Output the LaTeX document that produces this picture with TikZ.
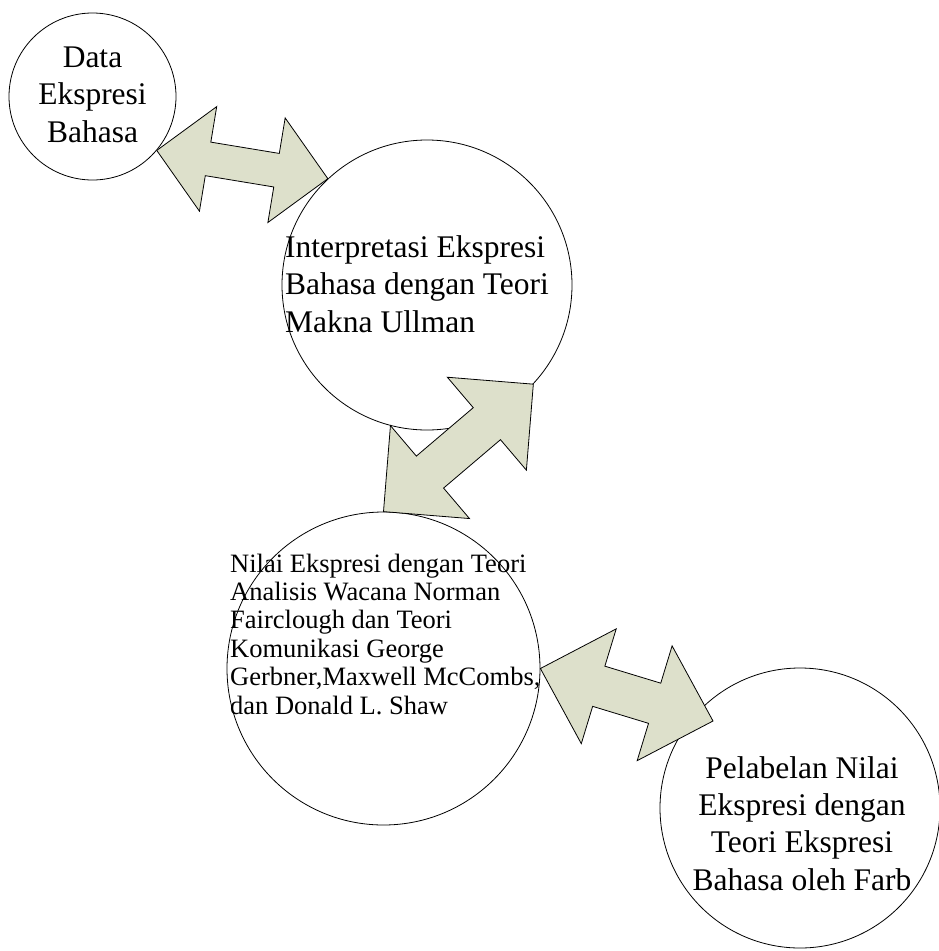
\documentclass[tikz,border=0pt]{standalone}
\usepackage{fontspec}
\setmainfont{Liberation Serif}
\usetikzlibrary{calc}
\definecolor{arrowfill}{RGB}{221,224,203}
\tikzset{
  bubble/.style={circle,draw=black,line width=0.8pt,fill=white,inner sep=0pt},
  bigtext/.style={inner sep=0pt,font=\fontsize{31.5}{37.2}\selectfont},
  smalltext/.style={inner sep=0pt,font=\fontsize{26.5}{28.4}\selectfont},
  blockarrow/.style={draw=black,line width=0.8pt,fill=arrowfill,line join=miter}
}
% double block arrow: tips #1,#2 ; head length #3 ; head half width #4 ; shaft half width #5
\newcommand\dblarw[5]{%
  \filldraw[blockarrow] (#1)
    -- ($(#1)!#3!(#2)!#4!90:(#2)$)
    -- ($(#1)!#3!(#2)!#5!90:(#2)$)
    -- ($(#2)!#3!(#1)!#5!-90:(#1)$)
    -- ($(#2)!#3!(#1)!#4!-90:(#1)$)
    -- (#2)
    -- ($(#2)!#3!(#1)!#4!90:(#1)$)
    -- ($(#2)!#3!(#1)!#5!90:(#1)$)
    -- ($(#1)!#3!(#2)!#5!-90:(#2)$)
    -- ($(#1)!#3!(#2)!#4!-90:(#2)$)
    -- cycle;}
\begin{document}
\begin{tikzpicture}[x=1pt,y=-1pt]
\useasboundingbox (0,0) rectangle (939,951);
% circles
\node[bubble,minimum size=167pt] (c1) at (92.5,96.5) {};
\node[bubble,minimum size=290pt] (c2) at (427,285) {};
\node[bubble,minimum size=313pt] (c3) at (383.5,668.5) {};
\node[bubble,minimum size=280pt] (c4) at (800,808) {};
% arrow end points
\coordinate (a1s) at (c1.-40);
\coordinate (a1e) at (c2.133);
\coordinate (a2s) at (c2.-43);
\coordinate (a2e) at (c3.90);
\coordinate (a3s) at (c3.0);
\coordinate (a3e) at (713,721);
% block arrows
\dblarw{a1s}{a1e}{52pt}{53pt}{17pt}
\dblarw{a2s}{a2e}{61pt}{61pt}{21pt}
\dblarw{a3s}{a3e}{61pt}{60pt}{21pt}
% texts (anchor base = baseline of the last line)
\node[bigtext,align=center,anchor=base] (t1) at (92.5,142) {Data\\Ekspresi\\Bahasa};
\node[bigtext,align=left,anchor=base west] (t2) at (285,332) {Interpretasi Ekspresi\\Bahasa dengan Teori\\Makna Ullman};
\node[smalltext,align=left,anchor=base west] (t3) at (230,714) {Nilai Ekspresi dengan Teori\\Analisis Wacana Norman\\Fairclough dan Teori\\Komunikasi George\\Gerbner,Maxwell McCombs,\\dan Donald L. Shaw};
\node[bigtext,align=center,anchor=base] (t4) at (802,890) {Pelabelan Nilai\\Ekspresi dengan\\Teori Ekspresi\\Bahasa oleh Farb};
\end{tikzpicture}
\end{document}
